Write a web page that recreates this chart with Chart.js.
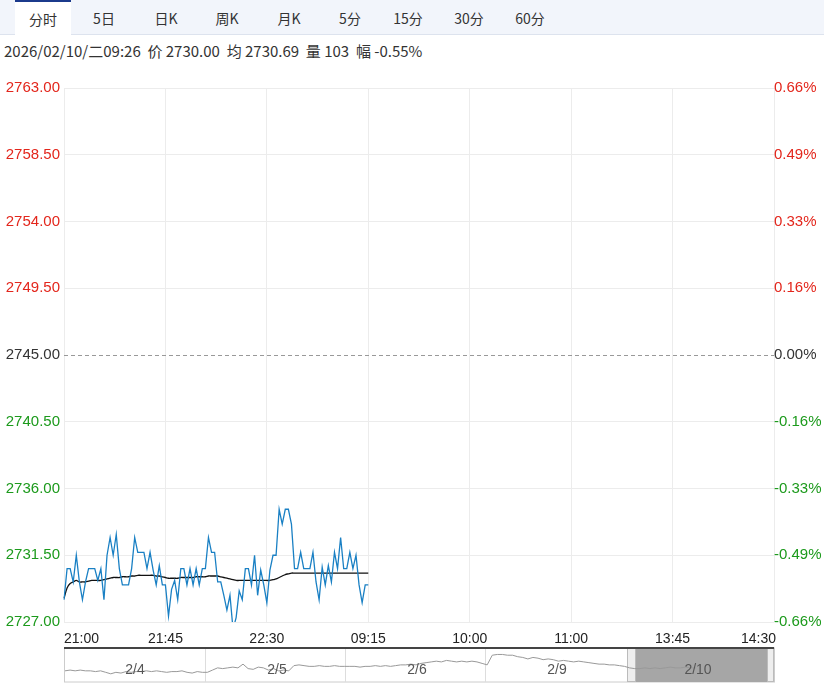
<!DOCTYPE html>
<html><head><meta charset="utf-8">
<script src="https://cdn.jsdelivr.net/npm/chart.js@4/dist/chart.umd.min.js"></script>
<style>
body{margin:0;width:824px;height:684px;background:#fff;font-family:"Microsoft YaHei","Noto Sans CJK SC",sans-serif;overflow:hidden;position:relative}
#tabs{position:absolute;left:0;top:0;width:824px;height:34px;background:#f2f5fb;border-bottom:1px solid #dde3ee}
.tab{position:absolute;top:0;height:34px;line-height:36px;font-size:14px;color:#333;text-align:center;width:56px}
.tab.act{background:#fff;border-top:2px solid #1b3a8c;height:33px;line-height:34px}
#info{position:absolute;left:4px;top:40px;font-size:15px;color:#333}
#main{position:absolute;left:0;top:75px}
#nav{position:absolute;left:0;top:645px}
</style></head><body>
<div id="tabs"></div>
<div id="info">2026/02/10/二09:26&nbsp; 价 2730.00&nbsp; 均 2730.69&nbsp; 量 103&nbsp; 幅 -0.55%</div>
<canvas id="main" width="824" height="570"></canvas>
<canvas id="nav" width="824" height="39"></canvas>
<script>
const tabNames=["分时","5日","日K","周K","月K","5分","15分","30分","60分"];
const tabCenters=[43,104,166,227,289,350,408,469,530];
const timeLabels=["21:00","21:45","22:30","09:15","10:00","11:00","13:45","14:30"];
const preClose=2745;
const yTicks=[2727,2731.5,2736,2740.5,2745,2749.5,2754,2758.5,2763];
const price=[2728.5,2730.6,2730.6,2729.7,2731.5,2729.7,2728.5,2729.7,2730.6,2730.6,2730.6,2729.8,2730.6,2728.5,2731.5,2732.7,2731.5,2732.9,2730.6,2729.5,2729.5,2729.5,2730.6,2732.7,2731.7,2731.7,2731.7,2730.6,2731.7,2730.5,2729.5,2730.8,2729.5,2729.5,2727.4,2729.2,2729.8,2728.5,2730.6,2730.6,2729.5,2730.6,2729.5,2730.6,2729.5,2730.6,2730.6,2732.7,2731.7,2731.7,2729.7,2729.7,2728.8,2727.8,2728.8,2726.5,2727.3,2729.1,2728.5,2730.6,2730.6,2729.5,2731.5,2728.8,2730.5,2729.5,2728.3,2730.5,2731.5,2731.5,2734.6,2733.6,2734.6,2734.6,2733.6,2730.6,2730.6,2731.7,2730.6,2730.6,2730.6,2731.7,2729.7,2728.5,2730.7,2729.5,2730.8,2729.7,2731.7,2730.6,2732.7,2730.6,2730.6,2731.7,2730.6,2731.5,2729.5,2728.3,2729.5,2729.5];
const avg=[2728.6,2729.3,2729.6,2729.7,2729.8,2729.7,2729.7,2729.7,2729.75,2729.8,2729.8,2729.8,2729.8,2729.85,2729.9,2729.95,2730.0,2730.0,2730.0,2730.05,2730.05,2730.05,2730.1,2730.1,2730.15,2730.15,2730.15,2730.15,2730.15,2730.15,2730.1,2730.1,2730.05,2730.0,2729.95,2729.95,2729.95,2729.95,2730.0,2730.0,2730.0,2730.0,2730.0,2730.05,2730.05,2730.05,2730.05,2730.1,2730.1,2730.1,2730.1,2730.05,2730.0,2729.95,2729.9,2729.85,2729.8,2729.8,2729.8,2729.8,2729.8,2729.8,2729.8,2729.8,2729.8,2729.8,2729.8,2729.8,2729.85,2729.9,2730.0,2730.1,2730.2,2730.25,2730.3,2730.3,2730.3,2730.3,2730.3,2730.3,2730.3,2730.3,2730.3,2730.3,2730.3,2730.3,2730.3,2730.3,2730.3,2730.3,2730.3,2730.3,2730.3,2730.3,2730.3,2730.3,2730.3,2730.3,2730.3,2730.3];
const navDays=["2/4","2/5","2/6","2/9","2/10"];
const navValues=[
[40,41,40,41,40,40,39,40,38,36,38,37,39,38,39,39,40,39,40,39,38,39,39,40,38,37,39,38],
[38,41,44,43,44,45,44,49,43,42,45,44,41,43,40,41,40,47,48,47,46,46,47,46,46,47,46,46],
[46,46,45,46,46,47,46,47,46,47,48,48,49,48,50,51,52,53,52,54,53,52,53,52,53,52,50,48],
[61,62,62,61,61,59,58,56,58,57,55,56,55,53,54,53,52,53,52,51,50,49,49,48,48,47,46,44],
[43,43,44,43,44,43,44,45,44,44,45,44,44]
];
const tabs=document.getElementById('tabs');
tabNames.forEach((t,i)=>{const d=document.createElement('div');d.className='tab'+(i===0?' act':'');d.style.left=(tabCenters[i]-28)+'px';d.textContent=t;tabs.appendChild(d);});

const TOTAL=232, STEP=33;
const labels=[];for(let i=0;i<TOTAL;i++)labels.push(i);
const red='#e3261c',green='#1c9a1c',dark='#333';
const FONT='Arial, "Liberation Sans", sans-serif';
function col(v){return Math.abs(v-preClose)<1e-6?dark:(v>preClose?red:green);}
function setTicks(ax){ax.ticks=yTicks.map(v=>({value:v}));}
const overlay={id:'ov',afterDraw(c){
 const g=c.ctx,a=c.chartArea,x=c.scales.x,y=c.scales.y;
 g.save();
 const yz=y.getPixelForValue(preClose);
 g.strokeStyle='#999';g.setLineDash([4,3]);g.lineWidth=1;
 g.beginPath();g.moveTo(a.left,yz+0.5);g.lineTo(a.right,yz+0.5);g.stroke();g.setLineDash([]);
 g.font='14px '+FONT;g.fillStyle='#222';g.textBaseline='middle';
 timeLabels.forEach((t,i)=>{const px=x.getPixelForValue(i*STEP);
  g.textAlign=i===0?'left':(i===timeLabels.length-1?'right':'center');
  g.fillText(t,i===timeLabels.length-1?px+2:px,a.bottom+17);});
 g.restore();
}};
new Chart(document.getElementById('main'),{type:'line',
 data:{labels,datasets:[
  {data:price,borderColor:'#1a80c4',borderWidth:1.3,pointRadius:0,tension:0},
  {data:avg,borderColor:'#111',borderWidth:1.3,pointRadius:0,tension:0.3}]},
 options:{responsive:false,animation:false,events:[],
  layout:{padding:{top:12,bottom:0,left:0,right:0}},
  plugins:{legend:{display:false},tooltip:{enabled:false}},
  scales:{
   x:{type:'category',offset:false,ticks:{display:false,autoSkip:false},
     grid:{color:c=>(c.index%STEP===0)?'#ececec':'transparent',drawTicks:false},border:{display:false},
     afterFit(s){s.height=23;}},
   y:{position:'left',min:2727,max:2763,afterBuildTicks:setTicks,
     ticks:{color:c=>col(c.tick.value),font:{size:15,family:FONT},padding:4,callback:v=>v.toFixed(2)},
     grid:{color:c=>Math.abs(c.tick.value-preClose)<1e-6?'transparent':'#ececec',drawTicks:false},border:{display:false},
     afterFit(s){s.width=64;}},
   y2:{position:'right',min:2727,max:2763,afterBuildTicks:setTicks,
     ticks:{color:c=>col(c.tick.value),font:{size:15,family:FONT},padding:0,
       callback:v=>((v-preClose)/preClose*100).toFixed(2)+'%'},
     grid:{display:false,drawTicks:false},border:{display:false},afterFit(s){s.width=50;}}
  }},plugins:[overlay]});

// navigator: each day gets an equal slot
const SLOT=28;
const navData=[],navLabels=[],bounds=[];
navValues.forEach((arr,d)=>{bounds.push(d*SLOT);for(let k=0;k<SLOT;k++){navData.push(k<arr.length?arr[k]:null);navLabels.push(d*SLOT+k);}});
const navPlug={id:'np',beforeDatasetsDraw(c){
 const g=c.ctx,x=c.scales.x;g.save();
 const L=64,R=774,T=3,B=37;
 g.strokeStyle='#ccc';g.lineWidth=1;g.strokeRect(L+0.5,T,R-L,B-T);
 const s0=627;
 g.fillStyle='#a6a6a6';g.fillRect(s0+8,T,R-6-(s0+8),B-T);
 g.fillStyle='#eee';g.strokeStyle='#bbb';g.fillRect(s0,T,8,B-T);g.strokeRect(s0+0.5,T+0.5,8,B-T-1);
 g.fillRect(R-7,T,7,B-T);g.strokeRect(R-6.5,T+0.5,6,B-T-1);
 g.strokeStyle='#ddd';[205,345,485].forEach(p=>{g.beginPath();g.moveTo(p+0.5,T);g.lineTo(p+0.5,B);g.stroke();});
 g.strokeStyle='#444';g.lineWidth=2;g.beginPath();g.moveTo(L,T);g.lineTo(R,T);g.stroke();
 g.restore();},
 afterDraw(c){const g=c.ctx;g.save();g.font='14px '+FONT;g.fillStyle='#555';g.textAlign='center';g.textBaseline='middle';
 [135,277,417,557,698].forEach((p,i)=>g.fillText(navDays[i],p,25));g.restore();}};
new Chart(document.getElementById('nav'),{type:'line',
 data:{labels:navLabels,datasets:[{data:navData,borderColor:'#999',borderWidth:1,pointRadius:0,spanGaps:false}]},
 options:{responsive:false,animation:false,events:[],layout:{padding:{left:65,right:52,top:5,bottom:2}},
  plugins:{legend:{display:false},tooltip:{enabled:false}},
  scales:{x:{display:false,offset:false},y:{display:false,min:25,max:68}}},plugins:[navPlug]});
</script></body></html>
